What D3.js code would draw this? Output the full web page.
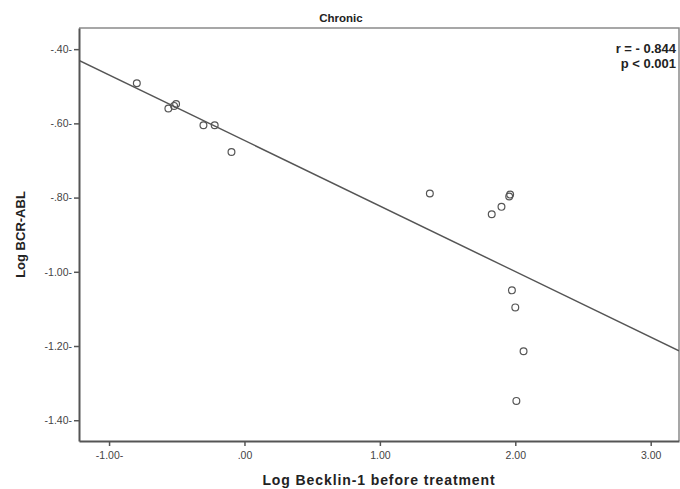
<!DOCTYPE html>
<html lang="en">
<head>
<meta charset="utf-8">
<script src="https://d3js.org/d3.v7.min.js"></script>
<style>
  body { margin: 0; background: #fff; }
  svg text { font-family: "Liberation Sans", Arial, sans-serif; }
</style>
</head>
<body>
<script>
// values
const becklin = [-0.795, -0.562, -0.520, -0.505, -0.303, -0.220, -0.096,
                 1.369, 1.826, 1.898, 1.955, 1.962, 1.975, 2.000, 2.061, 2.008];
const bcrAbl  = [-0.492, -0.560, -0.553, -0.548, -0.605, -0.605, -0.677,
                 -0.789, -0.845, -0.825, -0.797, -0.792, -1.050, -1.096, -1.214, -1.348];

const xTicks = [-1, 0, 1, 2, 3];
const xTickLabels = ["-1.00-", ".00", "1.00", "2.00", "3.00"];
const yTicks = [-0.4, -0.6, -0.8, -1.0, -1.2, -1.4];
const yTickLabels = ["-.40-", "-.60-", "-.80-", "-1.00-", "-1.20-", "-1.40-"];

// fit line (as drawn in the picture)
const fitSlope = -0.1767;
const fitIntercept = -0.646;

const stats = ["r = - 0.844", "p < 0.001"];

const width = 680, height = 489;
const margin = {top: 28, right: 1, bottom: 48, left: 79};

const svg = d3.select("body").append("svg")
    .attr("width", width)
    .attr("height", height);

const x = d3.scaleLinear()
    .domain([-1.222, 3.209])
    .range([margin.left, width - margin.right]);

const y = d3.scaleLinear()
    .domain([-1.456, -0.343])
    .range([height - margin.bottom, margin.top]);

// frame top & right
svg.append("path")
    .attr("d", `M${x.range()[0]},${y.range()[1]}H${x.range()[1]}V${y.range()[0]}`)
    .attr("fill", "none")
    .attr("stroke", "#8a8a8a")
    .attr("stroke-width", 1.5);

// axes
const xAxis = svg.append("g")
    .attr("transform", `translate(0,${y.range()[0]})`)
    .call(d3.axisBottom(x).tickValues(xTicks).tickSize(5).tickSizeOuter(0).tickPadding(6)
        .tickFormat((d, i) => xTickLabels[i]));

const yAxis = svg.append("g")
    .attr("transform", `translate(${x.range()[0]},0)`)
    .call(d3.axisLeft(y).tickValues(yTicks).tickSize(5).tickSizeOuter(0).tickPadding(2)
        .tickFormat((d, i) => yTickLabels[i]));

[xAxis, yAxis].forEach(g => {
  g.select(".domain").attr("stroke", "#555").attr("stroke-width", 2);
  g.selectAll(".tick line").attr("stroke", "#555").attr("stroke-width", 1.5);
  g.selectAll(".tick text")
      .attr("fill", "#444")
      .style("font-size", "10.5px");
});

// regression line, clipped to the plot
svg.append("clipPath").attr("id", "plotClip")
  .append("rect")
    .attr("x", x.range()[0]).attr("y", y.range()[1])
    .attr("width", x.range()[1] - x.range()[0])
    .attr("height", y.range()[0] - y.range()[1]);

const xd = x.domain();
svg.append("line")
    .attr("clip-path", "url(#plotClip)")
    .attr("x1", x(xd[0])).attr("y1", y(fitIntercept + fitSlope * xd[0]))
    .attr("x2", x(xd[1])).attr("y2", y(fitIntercept + fitSlope * xd[1]))
    .attr("stroke", "#555")
    .attr("stroke-width", 1.5);

// points
svg.append("g")
  .selectAll("circle")
  .data(becklin.map((v, i) => [v, bcrAbl[i]]))
  .join("circle")
    .attr("cx", d => x(d[0]))
    .attr("cy", d => y(d[1]))
    .attr("r", 3.4)
    .attr("fill", "none")
    .attr("stroke", "#555")
    .attr("stroke-width", 1.2);

// title
svg.append("text")
    .attr("x", 341).attr("y", 22)
    .attr("text-anchor", "middle")
    .style("font-size", "11.5px")
    .style("font-weight", "bold")
    .attr("fill", "#222")
    .text("Chronic");

// stats
svg.append("g").selectAll("text")
  .data(stats)
  .join("text")
    .attr("x", 676)
    .attr("y", (d, i) => 53 + i * 15)
    .attr("text-anchor", "end")
    .style("font-size", "13px")
    .style("font-weight", "bold")
    .attr("fill", "#222")
    .text(d => d);

// axis titles
svg.append("text")
    .attr("x", (x.range()[0] + x.range()[1]) / 2)
    .attr("y", 485)
    .attr("text-anchor", "middle")
    .style("font-size", "14px")
    .style("font-weight", "bold")
    .style("letter-spacing", "0.9px")
    .attr("fill", "#222")
    .text("Log Becklin-1 before treatment");

svg.append("text")
    .attr("transform", `translate(25,${(y.range()[0] + y.range()[1]) / 2}) rotate(-90)`)
    .attr("text-anchor", "middle")
    .style("font-size", "13px")
    .style("font-weight", "bold")
    .attr("fill", "#222")
    .text("Log BCR-ABL");
</script>
</body>
</html>
